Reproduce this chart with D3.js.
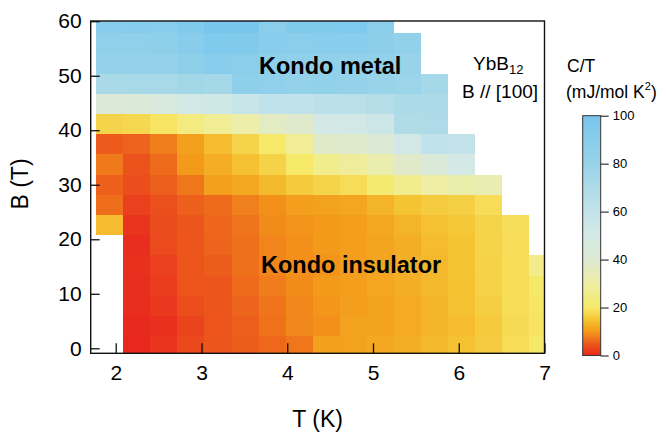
<!DOCTYPE html>
<html>
<head>
<meta charset="utf-8">
<script src="https://cdn.jsdelivr.net/npm/d3@7"></script>
<style>
  html, body { margin: 0; padding: 0; background: #fff; }
  svg { display: block; }
  text { font-family: "Liberation Sans", Arial, Helvetica, sans-serif; fill: #000; }
</style>
</head>
<body>
<svg id="chart" width="666" height="432"></svg>
<script>
// Temperature (K) at the centre of each measured column
const tempK = [1.93, 2.24, 2.56, 2.87, 3.19, 3.51, 3.82, 4.14, 4.45, 4.77, 5.08, 5.40, 5.72, 6.03, 6.35, 6.66, 6.98];
// Magnetic field (T) at the centre of each measured row
const fieldB = [0.4, 4.1, 7.8, 11.5, 15.2, 18.9, 22.6, 26.3, 30.0, 33.7, 37.4, 41.1, 44.8, 48.5, 52.2, 55.9, 59.6];
// C/T (mJ/mol K^2), one row per field value, one entry per temperature; null = not measured
const ctB00 = [null, 0, 1.2, 3.2, 4.6, 5.2, 6.1, 7.2, 10.7, 10.9, 11.6, 12.3, 13.5, 14.4, 16, 18.2, 19.9];
const ctB04 = [null, 0.2, 0.8, 2.8, 4.4, 5.3, 6.9, 8.6, 9.2, 10.9, 10.9, 11.9, 13, 14, 15.7, 17.9, 19.3];
const ctB08 = [null, 0.4, 1.6, 3.8, 4.6, 5.8, 7, 8.6, 9.7, 10.5, 10.9, 11.9, 13, 14.4, 16.2, 18.2, 19.6];
const ctB12 = [null, 0.6, 2, 4.4, 4.6, 6.3, 7.7, 8.8, 10, 10.5, 11.4, 12.3, 13.5, 14.7, 16.8, 18.2, 19.9];
const ctB15 = [null, 0.8, 2.4, 4.4, 5.2, 6.7, 8.3, 9.2, 9.5, 10.5, 11.2, 12.6, 13.5, 14.9, 16.8, 18.2, 25.5];
const ctB19 = [null, 0.4, 3.4, 4.6, 5.8, 6.7, 8.3, 9.2, 10, 10.5, 11.2, 12.3, 14, 14.9, 17.1, 18.2, null];
const ctB23 = [14, 1.2, 3.6, 4.6, 5.9, 7, 8.8, 9.5, 10, 10.5, 11.6, 13, 14.4, 15.4, 17.1, 18.5, null];
const ctB26 = [6.6, 2.4, 4, 5.5, 6.3, 8, 9.2, 10.5, 10.9, 11.4, 13, 14.9, 16, 16.5, 18.2, null, null];
const ctB30 = [5.5, 3.8, 5.3, 7.2, 10.7, 11.6, 13.7, 15.7, 17.1, 18.2, 21, 26.2, 30, 31.5, 33, null, null];
const ctB34 = [7.5, 4.2, 6.3, 10, 12.2, 14.4, 16.8, 20, 25.8, 28.6, 32.2, 38.3, 43, 50, null, null, null];
const ctB37 = [5, 5.6, 7.8, 10.7, 14, 17.1, 20, 27.5, 37.8, 38.7, 41, 52, 61.4, 60.5, null, null, null];
const ctB41 = [17.1, 17.6, 19.3, 23.8, 27.2, 31, 36.5, 38.7, 50, 52, 54.7, 69, 70, null, null, null, null];
const ctB45 = [42, 43, 46, 51, 53.5, 57, 61.4, 61.4, 63.3, 65, 67, 71, 71, null, null, null, null];
const ctB49 = [72, 73, 73, 75.5, 74, 86, 85, 82.5, 84, 82.5, 80, 78, 74, null, null, null, null];
const ctB52 = [82.5, 82.5, 82.5, 86, 90, 89, 86, 85, 85, 84, 84, 80, null, null, null, null, null];
const ctB56 = [85, 85, 86, 90, 95, 94, 90, 89, 90, 90, 87, 84, null, null, null, null, null];
const ctB60 = [90, 91, 90, 95, 100, 100, 89, 95, 95, 96, 89, null, null, null, null, null, null];
const ctRows = [ctB00, ctB04, ctB08, ctB12, ctB15, ctB19, ctB23, ctB26, ctB30, ctB34, ctB37, ctB41, ctB45, ctB49, ctB52, ctB56, ctB60];

const xTicks = [2, 3, 4, 5, 6, 7];
const yTicks = [0, 10, 20, 30, 40, 50, 60];
const cbTicks = [0, 20, 40, 60, 80, 100];
const cbStops = [0, 5, 10, 15, 20, 30, 40, 50, 60, 70, 80, 90, 100];
const cbColors = ["#e8281e", "#ec5a1c", "#f39a1a", "#f5c534", "#f6e96a", "#eeeea4", "#dde9d2",
                  "#d4e9e6", "#c3e3ea", "#aedbe7", "#98d3e9", "#88cdeb", "#78c6ee"];

const svg = d3.select("#chart");
const plot = { left: 90.7, right: 544.5, top: 21, bottom: 353.3 };

const x = d3.scaleLinear().domain([1.708, 7.0]).range([plot.left, plot.right]);
const y = d3.scaleLinear().domain([-0.92, 60.04]).range([plot.bottom, plot.top]);
const color = d3.scaleLinear().domain(cbStops).range(cbColors).clamp(true);

const defs = svg.append("defs");
defs.append("clipPath").attr("id", "plotClip")
  .append("rect")
  .attr("x", plot.left).attr("y", plot.top)
  .attr("width", plot.right - plot.left).attr("height", plot.bottom - plot.top);

// cell edges halfway between neighbouring centres
function edges(c) {
  const n = c.length;
  return c.map((v, i) => {
    const lo = i > 0 ? (c[i - 1] + v) / 2 : v - (c[1] - c[0]) / 2;
    const hi = i < n - 1 ? (v + c[i + 1]) / 2 : v + (c[n - 1] - c[n - 2]) / 2;
    return [lo, hi];
  });
}
const tEdges = edges(tempK);
const bEdges = edges(fieldB);

const cells = [];
ctRows.forEach((row, i) => {
  row.forEach((v, j) => {
    if (v !== null) cells.push({ t: tEdges[j], b: bEdges[i], v });
  });
});

svg.append("g")
  .attr("clip-path", "url(#plotClip)")
  .selectAll("rect")
  .data(cells)
  .join("rect")
  .attr("x", d => x(d.t[0]))
  .attr("y", d => y(d.b[1]))
  .attr("width", d => x(d.t[1]) - x(d.t[0]))
  .attr("height", d => y(d.b[0]) - y(d.b[1]))
  .attr("fill", d => color(d.v))
  .attr("shape-rendering", "crispEdges");

// frame
svg.append("rect")
  .attr("x", plot.left).attr("y", plot.top)
  .attr("width", plot.right - plot.left).attr("height", plot.bottom - plot.top)
  .attr("fill", "none").attr("stroke", "#111").attr("stroke-width", 1.4);

// axes with inward ticks
const gx = svg.append("g")
  .attr("transform", `translate(0,${plot.bottom})`)
  .call(d3.axisBottom(x).tickValues(xTicks).tickSize(-10).tickPadding(12).tickFormat(d3.format("d")));
gx.select(".domain").remove();
gx.selectAll(".tick line").attr("stroke", "#111").attr("stroke-width", 1.3);
gx.selectAll(".tick text").attr("font-size", 21).attr("font-family", null);

const gy = svg.append("g")
  .attr("transform", `translate(${plot.left},0)`)
  .call(d3.axisLeft(y).tickValues(yTicks).tickSize(-9).tickPadding(9).tickFormat(d3.format("d")));
gy.select(".domain").remove();
gy.selectAll(".tick line").attr("stroke", "#111").attr("stroke-width", 1.3);
gy.selectAll(".tick text").attr("font-size", 21).attr("font-family", null);

// axis titles
svg.append("text")
  .attr("x", (plot.left + plot.right) / 2).attr("y", 427)
  .attr("text-anchor", "middle").attr("font-size", 23)
  .text("T (K)");
svg.append("text")
  .attr("transform", "translate(28,184) rotate(-90)")
  .attr("text-anchor", "middle").attr("font-size", 23)
  .text("B (T)");

// region labels
svg.append("text").attr("x", 259).attr("y", 74)
  .attr("font-size", 23.5).attr("font-weight", "bold").text("Kondo metal");
svg.append("text").attr("x", 261).attr("y", 273)
  .attr("font-size", 23.5).attr("font-weight", "bold").text("Kondo insulator");

// sample annotation
const s1 = svg.append("text").attr("x", 473).attr("y", 70).attr("font-size", 19);
s1.append("tspan").text("YbB");
s1.append("tspan").attr("font-size", 13).attr("dy", 4).text("12");
svg.append("text").attr("x", 462).attr("y", 98).attr("font-size", 19).text("B // [100]");

// colour bar
const cb = { x: 582.7, w: 18, top: 115.7, bottom: 355.5 };
const grad = defs.append("linearGradient").attr("id", "ctGrad")
  .attr("x1", 0).attr("y1", 1).attr("x2", 0).attr("y2", 0);
cbStops.forEach((s, i) => {
  grad.append("stop").attr("offset", s / 100).attr("stop-color", cbColors[i]);
});
svg.append("rect")
  .attr("x", cb.x).attr("y", cb.top).attr("width", cb.w).attr("height", cb.bottom - cb.top)
  .attr("fill", "url(#ctGrad)").attr("stroke", "#333").attr("stroke-width", 1);

const cbScale = d3.scaleLinear().domain([0, 100]).range([cb.bottom, cb.top]);
const gc = svg.append("g")
  .attr("transform", `translate(${cb.x + cb.w},0)`)
  .call(d3.axisRight(cbScale).tickValues(cbTicks).tickSize(8).tickPadding(4));
gc.select(".domain").remove();
gc.selectAll(".tick line").attr("stroke", "#222").attr("stroke-width", 1.1);
gc.selectAll(".tick text")
  .attr("font-size", 13)
  .attr("font-family", "'Liberation Serif', 'Times New Roman', serif");

svg.append("text").attr("x", 567).attr("y", 72).attr("font-size", 17.5).text("C/T");
const unit = svg.append("text").attr("x", 566).attr("y", 98).attr("font-size", 17.5);
unit.append("tspan").text("(mJ/mol K");
unit.append("tspan").attr("font-size", 11).attr("dy", -8).text("2");
unit.append("tspan").attr("dy", 8).text(")");
</script>
</body>
</html>
